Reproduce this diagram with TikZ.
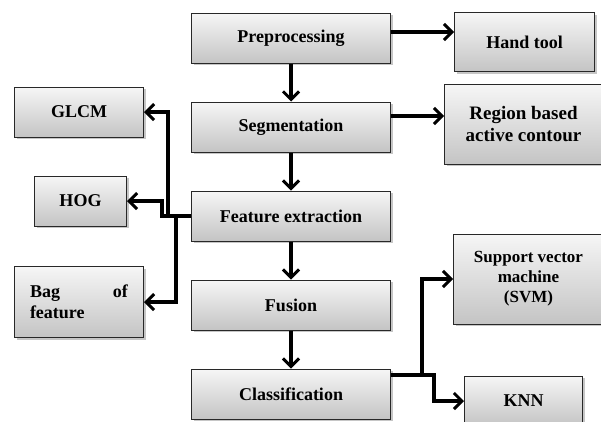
\documentclass[tikz,border=0pt]{standalone}
\usepackage{fontspec}
\setmainfont{Liberation Serif}
\usepackage{xcolor}
\usepackage{tikz}
\usetikzlibrary{arrows.meta, positioning, shadows}
\definecolor{boxtop}{RGB}{246,246,246}
\definecolor{boxbottom}{RGB}{196,196,196}
\definecolor{edgegray}{RGB}{40,40,40}
\tikzset{
  box/.style={rectangle, draw=edgegray, line width=1pt, top color=boxtop,
    bottom color=boxbottom, align=center, inner sep=2pt,
    font=\fontsize{18}{21}\selectfont\bfseries,
    drop shadow={shadow xshift=2pt, shadow yshift=-2pt, opacity=0.45}},
  mainbox/.style={box, minimum width=199pt, minimum height=50pt},
  arrow/.style={-{Straight Barb[length=8pt, width=16pt, line width=3pt]},
    line width=3.5pt, black},
}

\begin{document}
\begin{tikzpicture}[node distance=38pt]
  \useasboundingbox (0,0) rectangle (601pt,-421pt);

  % main column
  \node[mainbox] at (291pt,-38pt) (prep) {Preprocessing};
  \node[mainbox, below=of prep] (seg)    {Segmentation};
  \node[mainbox, below=of seg]  (feat)   {Feature extraction};
  \node[mainbox, below=of feat] (fusion) {Fusion};
  \node[mainbox, below=of fusion] (class) {Classification};

  % right side
  \node[box, right=63pt of prep, yshift=-4pt, minimum width=140pt,
        minimum height=59pt] (hand) {Hand tool};
  \node[box, right=53pt of seg, yshift=3pt, minimum width=158pt,
        minimum height=80pt, font=\fontsize{19}{22}\selectfont\bfseries]
    (region) {Region based\\active contour};
  \node[box, right=62pt of fusion, yshift=26pt, minimum width=150pt,
        minimum height=90pt, font=\fontsize{17}{20}\selectfont\bfseries]
    (svm) {Support vector\\machine\\(SVM)};
  \node[box, right=73pt of class, yshift=-7pt, minimum width=118pt,
        minimum height=50pt] (knn) {KNN};

  % left side
  \node[box, left=47pt of seg, yshift=15pt, minimum width=129pt,
        minimum height=50pt] (glcm) {GLCM};
  \node[box, left=64pt of feat, yshift=15pt, minimum width=92pt,
        minimum height=50pt] (hog) {HOG};
  \node[box, left=47pt of fusion, yshift=3pt, minimum width=129pt,
        minimum height=71pt, text width=98pt, align=left]
    (bag) {Bag\hfill of\\feature};

  \draw[arrow] (prep) -- (seg);
  \draw[arrow] (seg) -- (feat);
  \draw[arrow] (feat) -- (fusion);
  \draw[arrow] (fusion) -- (class);

  \draw[arrow] ([yshift=6pt]prep.east) -- ([yshift=6pt]prep.east -| hand.west);
  \draw[arrow] ([yshift=11pt]seg.east) -- ([yshift=11pt]seg.east -| region.west);

  \coordinate (jl) at ([xshift=-23pt]feat.west);
  \draw[arrow] (feat.west) -- (jl) |- (glcm.east);
  \draw[arrow] (jl) -- ++(-6pt,0) |- (hog.east);
  \draw[arrow] ([xshift=-15pt]feat.west) |- (bag.east);

  \coordinate (jr) at ([xshift=31pt,yshift=19pt]class.east);
  \draw[arrow] ([yshift=19pt]class.east) -- (jr) |- (svm.west);
  \draw[arrow] (jr) -- ++(12pt,0) |- (knn.west);
\end{tikzpicture}
\end{document}
